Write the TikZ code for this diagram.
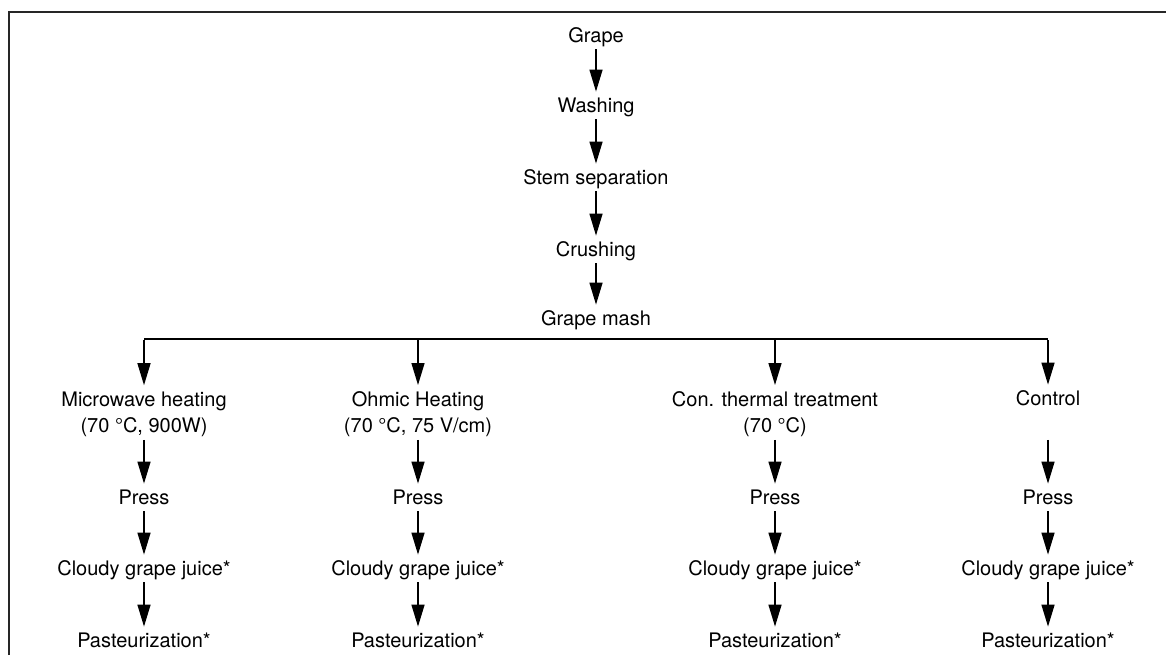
\documentclass[tikz,border=0pt]{standalone}
\usepackage{fontspec}
\setmainfont{TeX Gyre Heros}
\usetikzlibrary{arrows.meta}
\def\dflow{\draw[flow]}

\begin{document}
\begin{tikzpicture}[x=0.5pt,y=-0.5pt,
    every node/.style={font=\fontsize{10}{13}\selectfont,text height=7pt,text depth=2pt,inner sep=1pt,align=center},
    treat/.style={text height={},text depth={}},
    flow/.style={line width=0.7pt,-{Triangle[width=6.5pt,length=11pt]},shorten >=2pt,shorten <=0.5pt},
    bus/.style={line width=0.7pt},
    frame/.style={line width=1pt,draw=black!85}]
    \useasboundingbox (0,0) rectangle (1166,655);
    \draw[frame] (9,655) -- (9,12) -- (1166,12);
    % common steps
    \node (grape) at (596,37)  {Grape};
    \node (wash)  at (596,107) {Washing};
    \node (stem)  at (596,179) {Stem separation};
    \node (crush) at (596,251) {Crushing};
    \node (mash)  at (596,320) {Grape mash};
    \foreach \a/\b in {grape/wash,wash/stem,stem/crush,crush/mash}
        \dflow (\a) -- (\b);
    % treatments
    \coordinate (bus) at (596,339);
    \node[treat] (trt1) at (144,414)  {Microwave heating\\(70 °C, 900W)};
    \node[treat] (trt2) at (418,414)  {Ohmic Heating\\(70 °C, 75 V/cm)};
    \node[treat] (trt3) at (775,414)  {Con. thermal treatment\\(70 °C)};
    \node        (trt4) at (1048,400) {Control};
    \draw[bus] (trt1 |- bus) -- (trt4 |- bus);
    \foreach \i/\x in {1/144,2/418,3/775,4/1048} {
        \dflow (trt\i |- bus) -- (trt\i);
        \node (prs\i) at (\x,499) {Press};
        \node (jce\i) at (\x,570) {Cloudy grape juice*};
        \node (pst\i) at (\x,642) {Pasteurization*};
        \dflow (trt\i |- trt1.south) -- (prs\i);
        \dflow (prs\i) -- (jce\i);
        \dflow (jce\i) -- (pst\i);
    }
\end{tikzpicture}
\end{document}
